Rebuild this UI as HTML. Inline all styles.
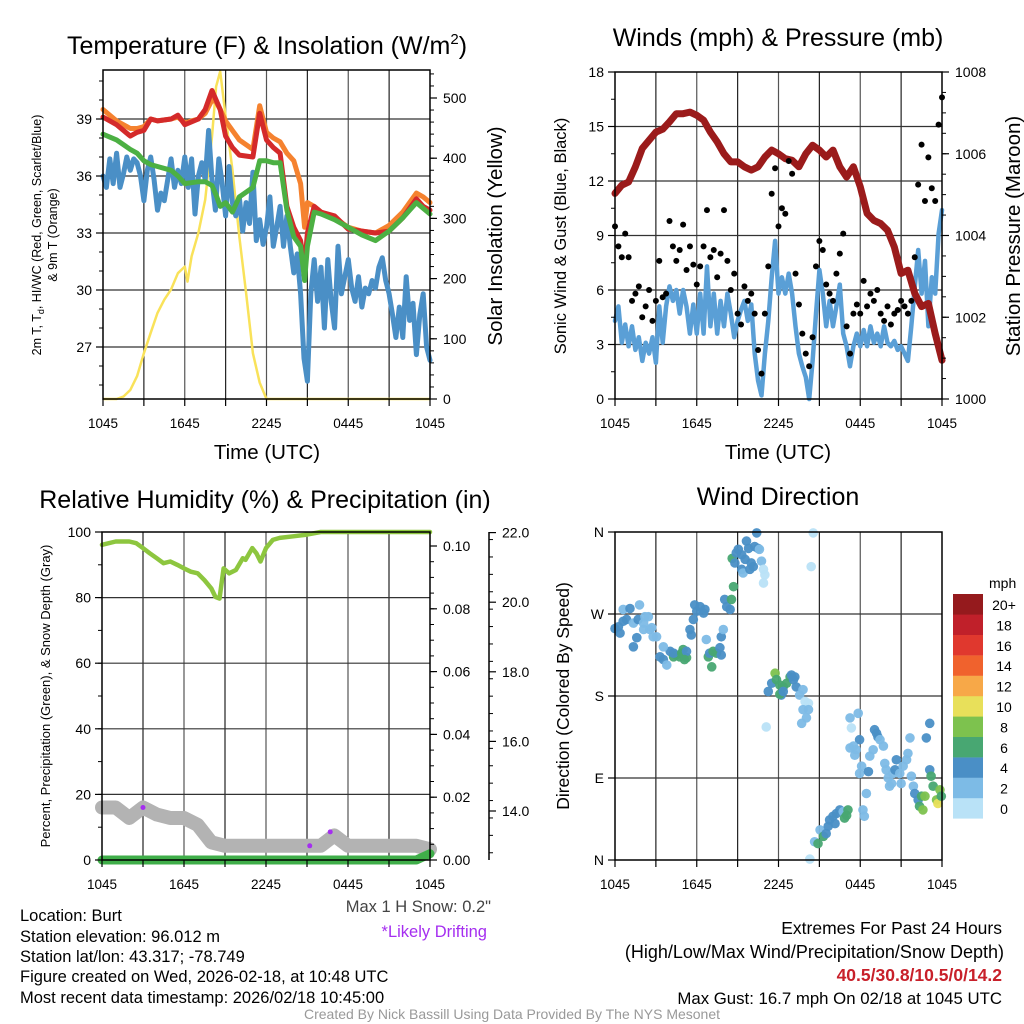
<!DOCTYPE html>
<html><head><meta charset="utf-8"><style>
html,body{margin:0;padding:0;background:#fff;}
svg{display:block;font-family:"Liberation Sans",Arial,sans-serif;}
</style></head><body>
<svg id="chart" width="1024" height="1024" viewBox="0 0 1024 1024" xmlns="http://www.w3.org/2000/svg">
<rect width="1024" height="1024" fill="#fff"/>
<g id="grid"></g><g id="marks"></g><g id="axes"></g>
<!-- titles -->
<text x="267" y="54" font-size="25" text-anchor="middle">Temperature (F) &amp; Insolation (W/m<tspan dy="-10" font-size="15">2</tspan><tspan dy="10">)</tspan></text>
<text x="778" y="46" font-size="25" text-anchor="middle">Winds (mph) &amp; Pressure (mb)</text>
<text x="265" y="508" font-size="25" text-anchor="middle">Relative Humidity (%) &amp; Precipitation (in)</text>
<text x="778" y="505" font-size="25" text-anchor="middle">Wind Direction</text>
<!-- x titles -->
<text x="267" y="459" font-size="20.5" text-anchor="middle">Time (UTC)</text>
<text x="778" y="459" font-size="20.5" text-anchor="middle">Time (UTC)</text>
<!-- y titles -->
<text transform="translate(41,235) rotate(-90)" font-size="12.5" text-anchor="middle">2m T, T<tspan font-size="9" dy="3">d</tspan><tspan dy="-3">, HI/WC (Red, Green, Scarlet/Blue)</tspan></text>
<text transform="translate(57,235) rotate(-90)" font-size="12.5" text-anchor="middle">&amp; 9m T (Orange)</text>
<text transform="translate(502,236) rotate(-90)" font-size="20.5" text-anchor="middle">Solar Insolation (Yellow)</text>
<text transform="translate(566,236) rotate(-90)" font-size="16.5" text-anchor="middle">Sonic Wind &amp; Gust (Blue, Black)</text>
<text transform="translate(1020,236) rotate(-90)" font-size="20.5" text-anchor="middle">Station Pressure (Maroon)</text>
<text transform="translate(50,696) rotate(-90)" font-size="13" text-anchor="middle">Percent, Precipitation (Green), &amp; Snow Depth (Gray)</text>
<text transform="translate(569,696) rotate(-90)" font-size="17.5" text-anchor="middle">Direction (Colored By Speed)</text>
<!-- notes -->
<text x="491" y="912" font-size="16.5" fill="#444" text-anchor="end">Max 1 H Snow: 0.2"</text>
<text x="487" y="937" font-size="16.5" fill="#a52ef0" text-anchor="end">*Likely Drifting</text>
<g font-size="16.5">
<text x="20" y="921">Location: Burt</text>
<text x="20" y="942">Station elevation: 96.012 m</text>
<text x="20" y="962">Station lat/lon: 43.317; -78.749</text>
<text x="20" y="982">Figure created on Wed, 2026-02-18, at 10:48 UTC</text>
<text x="20" y="1003">Most recent data timestamp: 2026/02/18 10:45:00</text>
</g>
<g font-size="17.5" text-anchor="end">
<text x="1002" y="934">Extremes For Past 24 Hours</text>
<text x="1004" y="958" font-size="18">(High/Low/Max Wind/Precipitation/Snow Depth)</text>
<text x="1002" y="981" font-weight="bold" fill="#c8202a">40.5/30.8/10.5/0/14.2</text>
<text x="1002" y="1004" font-size="16.8">Max Gust: 16.7 mph On 02/18 at 1045 UTC</text>
</g>
<text x="512" y="1019" font-size="14" fill="#999" text-anchor="middle">Created By Nick Bassill Using Data Provided By The NYS Mesonet</text>
</svg>
<script>
// ---------- data ----------
const xTickLabels = ['1045','1645','2245','0445','1045'];
const tempTicks = [27,30,33,36,39];
const solarTicks = [0,100,200,300,400,500];
const windTicks = [0,3,6,9,12,15,18];
const pressTicks = [1000,1002,1004,1006,1008];
const rhTicks = [0,20,40,60,80,100];
const precipTicks = ['0.00','0.02','0.04','0.06','0.08','0.10'];
const snowTicks = ['14.0','16.0','18.0','20.0','22.0'];
const dirTickLabels = ['N','E','S','W','N'];
const speedBins = ['0','2','4','6','8','10','12','14','16','18','20+'];

const tHours = [0,1,2,2.5,3,3.5,4,5,5.5,6,7,7.5,8,8.3,8.6,9,9.5,10,11,11.5,12,12.5,13,13.5,14,14.5,14.8,15,15.5,16,17,18,19,20,21,22,23,23.5,24];
const tempRed = [39.1,38.7,38.1,38.3,38.4,39.0,38.9,39.0,39.2,38.7,39.0,39.5,40.5,40.0,39.5,38.1,37.5,37.1,37.0,39.3,37.9,37.5,37.2,34.4,33.3,32.6,31.2,33.0,34.4,34.1,33.9,33.2,33.1,33.0,33.1,33.8,34.8,34.4,34.2];
const temp9m = [39.5,38.9,38.5,38.5,38.6,39.0,38.9,39.0,39.1,38.8,39.0,39.3,40.0,39.9,39.5,38.9,38.4,37.9,37.4,39.7,38.3,38.0,37.8,37.2,36.8,35.6,33.3,34.6,34.4,34.1,33.8,33.3,33.1,33.0,33.4,34.1,35.1,34.9,34.6];
const windChill = [38.2,37.9,37.4,37.2,36.8,36.6,36.5,36.3,36.0,35.6,35.7,35.7,35.5,35.0,34.4,34.6,34.1,34.9,35.4,36.8,36.8,36.7,36.7,34.2,32.8,32.3,30.5,32.3,34.1,34.0,33.7,33.3,32.9,32.6,33.1,33.8,34.6,34.3,34.0];
const dewPoint = [36.0,35.4,36.9,35.6, 37.2,35.4,36.1,37.0, 36.3,36.9,36.7,36.0, 34.7,36.3,37.0,35.8, 34.2,35.1,34.7,35.8, 36.9,35.4,36.3,35.6, 37.0,35.4,36.9,34.0, 36.0,36.7,35.8,38.4, 35.8,34.2,36.9,35.6, 33.9,36.5,34.6,33.9, 34.9,33.1,34.6,33.5, 36.2,32.6,33.7,32.4, 33.3,34.9,32.3,33.3, 34.4,32.3,33.9,32.3, 30.9,31.9,29.8,26.4, 25.2,29.8,31.6,29.4, 31.2,28.0,31.6,29.4, 28.0,32.3,29.8,30.7, 31.6,30.1,29.4,30.7, 29.1,30.1,29.8,30.5, 30.1,31.2,31.7,30.5, 29.8,28.7,27.5,29.1, 27.5,30.7,28.4,29.3, 26.6,28.7,29.8,27.0, 26.3];
const solarHours = [0,1,1.5,2,2.5,3,3.5,4,4.5,5,5.5,6,6.2,6.5,7,7.5,8,8.3,8.6,9,9.5,10,10.5,11,11.5,12,24];
const solar = [0,0,4,15,38,76,110,143,165,182,209,220,195,237,276,331,436,519,544,470,381,270,176,76,27,0,0];

const pHours = [0,0.5,1,1.5,2,2.5,3,3.5,4,4.5,5,5.5,6,6.5,7,7.5,8,8.5,9,9.5,10,10.5,11,11.5,12,12.5,13,13.5,14,14.5,15,15.5,16,16.5,17,17.5,18,18.5,19,19.5,20,20.5,21,21.5,22,22.5,23,23.5,24];
const pressure = [1005.03,1005.23,1005.31,1005.68,1006.13,1006.33,1006.53,1006.6,1006.78,1006.98,1006.98,1007.02,1006.94,1006.82,1006.53,1006.29,1006.0,1005.8,1005.8,1005.68,1005.6,1005.68,1005.92,1006.09,1006.0,1005.88,1005.84,1005.68,1006.0,1006.21,1006.09,1005.92,1006.09,1005.68,1005.43,1005.68,1005.19,1004.54,1004.37,1004.29,1004.13,1003.72,1003.07,1003.15,1002.58,1002.26,1002.34,1001.6,1000.95];
const sonicWind = [4.3,5.1,3.1,4.1, 2.9,4.0,2.7,3.4, 2.1,3.1,2.5,3.4, 2.0,5.1,3.1,5.1, 6.2,5.4,6.0,4.7, 6.0,5.1,3.6,5.2, 3.6,5.8,3.6,7.3, 4.0,5.8,3.6,5.4, 4.0,5.8,4.7,3.4, 4.3,4.9,5.4,4.3, 5.2,2.5,1.0,0.2, 2.5,4.3,6.7,8.7, 5.8,6.7,5.8,6.9, 5.8,4.0,2.5,1.8, 1.2,0.0,2.1,4.7, 7.1,5.8,4.0,5.4, 4.0,5.1,6.3,3.6, 2.9,1.8,2.9,3.6, 2.9,3.8,2.9,4.0, 3.1,3.6,2.9,4.0, 3.1,2.9,3.2,2.7, 2.9,2.5,2.1,4.0, 6.2,8.2,5.8,7.6, 4.0,6.7,5.8,9.1, 10.4];
const gust = [9.5,8.4,7.8,9.1, 7.8,5.4,5.8,6.2, 4.5,5.1,6.0,4.3, 5.4,7.6,5.6,5.8, 9.8,8.4,7.6,8.2, 9.6,7.1,8.4,7.4, 6.3,7.3,8.4,10.4, 7.8,8.2,6.7,8.0, 10.4,7.6,6.0,6.9, 4.7,4.1,6.2,5.4, 5.8,4.7,2.7,1.4, 4.7,7.3,11.3,12.7, 9.5,10.5,10.2,13.1, 12.4,6.9,5.2,3.6, 2.5,1.8,3.4,7.3, 8.7,8.2,6.3,5.8, 5.4,6.9,8.0,9.1, 4.0,2.5,4.7,5.2, 4.7,6.5,5.1,5.8, 5.4,6.0,4.7,4.3, 5.1,4.1,4.7,4.9, 5.4,5.1,4.7,5.4, 7.8,11.8,14.0,10.9, 13.3,11.6,10.9,15.1, 16.6];

const rhHours = [0,1,2,2.5,3,3.5,4,4.5,5,5.5,6,6.5,7,7.5,8,8.3,8.6,8.9,9.3,9.8,10.3,10.5,11,11.3,11.6,12,12.5,13,14,15,16,24];
const relHum = [96.1,97.1,97.1,96.6,95.1,93.5,92.0,90.5,91.0,90.0,88.9,87.9,87.4,85.3,82.8,80.2,79.7,88.9,87.4,88.4,92.0,91.5,95.1,93.5,91.0,95.1,97.6,98.2,98.7,99.2,100,100];
const snowDepth = [14.1,14.1,13.8,14.1,13.9,13.8,13.8,13.6,13.1,13.0,13.0,13.0,13.0,13.0,13.0,13.0,13.0,13.3,13.0,13.0,13.0,13.0,13.0,13.0,12.9];
const precip = [0,0,0,0,0,0,0,0,0,0,0,0,0,0,0,0,0,0,0,0,0,0,0,0,0.002];
const driftHours = [3,15.2,16.7];
const driftSnow = [14.1,13.0,13.4];

const dirTime = [0,0.25,0.37,0.6,0.85,0.6,1.1,1.35,1.7,1.8,2.1,2.2,2.45,1.35,1.6,2.1,2.55,2.8,3.05,2.7,
3.3,3.55,3.8,4.05,4.3,4.5,4.75,5.0,5.25,3.55,4.3,4.9,5.25,5.1,
5.6,5.5,5.75,5.85,6.0,6.25,6.5,6.6,6.7,6.85,6.95,7.1,7.2,7.45,7.7,7.8,7.95,7.8,
8.05,8.2,8.45,8.55,8.7,8.6,8.8,8.9,9.05,9.3,9.4,9.55,9.65,9.8,9.9,10.0,10.15,10.25,10.4,10.5,10.6,10.75,10.9,11.0,10.9,9.3,
11.1,11.25,11.5,11.75,11.85,12.1,12.2,12.35,12.6,12.85,12.95,13.1,13.2,13.3,13.55,13.8,13.95,14.2,13.8,14.2,14.05,13.7,14.55,14.4,12.1,12.35,
14.3,14.65,14.9,15.05,15.3,15.5,15.65,15.75,16.0,16.25,16.5,16.75,17.0,17.1,16.85,16.15,18.2,18.3,18.45,
17.25,17.35,17.85,17.95,17.25,17.5,17.7,17.6,17.95,18.1,18.6,18.7,18.95,19.05,19.2,19.3,19.45,19.7,19.8,19.9,20.05,20.15,20.3,20.4,20.55,20.65,20.9,21.0,21.15,21.4,21.5,21.65,21.75,21.9,22.0,22.25,22.5,22.35,22.6,22.75,22.85,23.1,23.1,23.2,23.35,23.6,23.7,23.85,23.95];
const dirDeg = [254,256,249,262,264,275,276,260,264,280,260,267,267,234,244,253,253,245,245,255,
223,220,214,229,223,225,223,231,222,234,227,227,229,220,
247,253,264,280,273,278,271,275,242,223,227,212,229,227,233,245,253,225,
286,278,275,286,300,331,326,337,341,319,315,330,350,342,319,326,322,344,359,342,341,328,319,313,304,335,
146,185,194,205,198,192,181,190,194,201,203,198,201,190,181,187,174,172,165,165,156,150,359,322,182,185,
1,20,18,33,26,29,37,44,48,51,55,53,49,55,46,40,55,48,73,
156,145,161,132,123,125,121,115,95,103,97,114,121,143,139,135,132,125,106,99,90,81,84,95,99,110,95,84,103,110,117,134,92,81,73,66,70,59,55,70,134,150,99,92,81,66,62,77,70];
const dirSpeed = [4,4,4,4,4,2,4,2,4,2,2,2,2,4,4,2,2,2,2,2,
4,4,2,4,6,6,6,6,6,2,4,6,4,6,
4,4,4,4,4,4,4,4,2,6,4,6,6,6,4,4,2,4,
4,4,4,6,6,6,4,4,4,4,2,4,4,4,4,4,4,4,4,4,2,2,0,0,0,4,
0,4,4,8,6,6,4,6,6,6,4,4,4,4,2,2,0,0,2,2,2,2,0,0,6,4,
0,2,6,2,6,4,4,4,4,4,4,2,6,6,6,4,2,2,2,
2,0,2,4,2,2,2,2,2,2,4,2,2,4,4,4,2,2,2,2,2,2,2,2,4,4,2,2,2,2,2,2,2,2,4,4,6,6,8,8,4,4,4,6,6,8,10,8,6];

// ---------- helpers ----------
const NS='http://www.w3.org/2000/svg';
const gGrid=document.getElementById('grid'), gMarks=document.getElementById('marks'), gAxes=document.getElementById('axes');
function mk(tag,attrs,parent){const e=document.createElementNS(NS,tag);for(const k in attrs)e.setAttribute(k,attrs[k]);parent.appendChild(e);return e;}
function pathFrom(xs,ys){return xs.map((x,i)=>(i?'L':'M')+x.toFixed(1)+','+ys[i].toFixed(1)).join('');}
const bins = ['#b9e2f7','#7dbbe6','#4a8fc6','#48a772','#7dc24e','#e8e05a','#f7a848','#f0622d','#e0382e','#c0202a','#951a1d'];

const P1={x0:103,x1:430,y0:70,y1:399}, P2={x0:615,x1:942,y0:72,y1:399}, P3={x0:102,x1:430,y0:532,y1:860}, P4={x0:615,x1:942,y0:532,y1:860};
const hx=(P,h)=>P.x0+h*(P.x1-P.x0)/24;
const yTemp=t=>119+(39-t)*19.0;
const ySolar=w=>399-w*0.602;
const yWind=m=>399-m*(327/18);
const yPress=p=>399-(p-1000)*(327/8);
const yRH=r=>860-r*3.28;
const yPrecip=p=>860-p*3140;
const ySnow=s=>811-(s-14)*34.8;
const yDir=d=>860-d*(328/360);

function frame(P,name,hLines){
  for(let k=1;k<8;k++){
    const x=P.x0+k*(P.x1-P.x0)/8;
    const l=mk('line',{x1:x,x2:x,y1:P.y0,y2:P.y1,stroke:k%2?'#222':'#555','stroke-width':1.2},gGrid);
    
    
  }
  hLines.forEach(y=>{
    const l=mk('line',{x1:P.x0,x2:P.x1,y1:y,y2:y,stroke:'#333','stroke-width':1.2},gGrid);
    
    
  });
  const r=mk('rect',{x:P.x0,y:P.y0,width:P.x1-P.x0,height:P.y1-P.y0,fill:'none',stroke:'#000','stroke-width':1.5},gAxes);
  
  
  for(let k=0;k<=8;k++){
    const x=P.x0+k*(P.x1-P.x0)/8;
    const t=mk('line',{x1:x,x2:x,y1:P.y1,y2:P.y1+7,stroke:'#000','stroke-width':1.2},gAxes);
    
    
  }
  xTickLabels.forEach((lab,i)=>{
    const x=P.x0+i*(P.x1-P.x0)/4;
    const t=mk('text',{x:x,y:P.y1+29,'font-size':13.5,'text-anchor':'middle'},gAxes);
    t.textContent=lab;
    
    
  });
}
function yTicks(vals,labels,fy,x,side,name,minorVals,fs){
  vals.forEach((v,i)=>{
    const y=fy(v);
    const t=mk('line',{x1:x,x2:x+(side==='left'?-7:7),y1:y,y2:y,stroke:'#000','stroke-width':1.2},gAxes);
    
    
    const tx=mk('text',{x:side==='left'?x-11:x+13,y:y+5,'font-size':fs||14,'text-anchor':side==='left'?'end':'start'},gAxes);
    tx.textContent=labels[i];
    
    
  });
  (minorVals||[]).forEach(v=>{
    const y=fy(v);
    const t=mk('line',{x1:x,x2:x+(side==='left'?-4:4),y1:y,y2:y,stroke:'#000','stroke-width':1},gAxes);
    
    
  });
}
function range(a,b,s){const r=[];for(let v=a;v<=b+1e-9;v+=s)r.push(+v.toFixed(4));return r;}

// ---------- panel 1 ----------
frame(P1,'temperature',tempTicks.map(yTemp));
yTicks(tempTicks,tempTicks.map(String),yTemp,P1.x0,'left','temperature-y',range(25,41,1));
yTicks(solarTicks,solarTicks.map(String),ySolar,P1.x1,'right','solar-y',range(0,540,20));
{
  let p=mk('path',{d:pathFrom(solarHours.map(h=>hx(P1,h)),solar.map(ySolar)),fill:'none',stroke:'#f9e25a','stroke-width':2.5,'stroke-linejoin':'round'},gMarks);
  
  
  const dHours=dewPoint.map((_,i)=>i*0.25);
  p=mk('path',{d:pathFrom(dHours.map(h=>hx(P1,h)),dewPoint.map(yTemp)),fill:'none',stroke:'#4a8fc6','stroke-width':5,'stroke-linejoin':'round','stroke-linecap':'round'},gMarks);
  
  
  p=mk('path',{d:pathFrom(tHours.map(h=>hx(P1,h)),temp9m.map(yTemp)),fill:'none',stroke:'#f5822f','stroke-width':5,'stroke-linejoin':'round','stroke-linecap':'round'},gMarks);
  
  
  p=mk('path',{d:pathFrom(tHours.map(h=>hx(P1,h)),tempRed.map(yTemp)),fill:'none',stroke:'#d42a2a','stroke-width':5,'stroke-linejoin':'round','stroke-linecap':'round'},gMarks);
  
  
  p=mk('path',{d:pathFrom(tHours.map(h=>hx(P1,h)),windChill.map(yTemp)),fill:'none',stroke:'#4cb043','stroke-width':5,'stroke-linejoin':'round','stroke-linecap':'round'},gMarks);
  
  
}

// ---------- panel 2 ----------
frame(P2,'winds',windTicks.slice(1,-1).map(yWind));
yTicks(windTicks,windTicks.map(String),yWind,P2.x0,'left','wind-y',range(0,18,1.5));
yTicks(pressTicks,pressTicks.map(String),yPress,P2.x1,'right','pressure-y',range(1000,1008,0.5));
{
  const wHours=sonicWind.map((_,i)=>i*0.25);
  let p=mk('path',{d:pathFrom(wHours.map(h=>hx(P2,h)),sonicWind.map(yWind)),fill:'none',stroke:'#5a9fd6','stroke-width':4.5,'stroke-linejoin':'round','stroke-linecap':'round'},gMarks);
  
  
  p=mk('path',{d:pathFrom(pHours.map(h=>hx(P2,h)),pressure.map(yPress)),fill:'none',stroke:'#9b1b1b','stroke-width':7,'stroke-linejoin':'round','stroke-linecap':'round'},gMarks);
  
  
  gust.forEach((g,i)=>{
    const c=mk('circle',{cx:hx(P2,i*0.25),cy:yWind(g),r:3,fill:'#000'},gMarks);
    
    
  });
}

// ---------- panel 3 ----------
frame(P3,'humidity',rhTicks.slice(1,-1).map(yRH));
yTicks(rhTicks,rhTicks.map(String),yRH,P3.x0,'left','humidity-y',range(0,100,10));
yTicks(precipTicks.map(Number),precipTicks,yPrecip,P3.x1,'right','precip-y',range(0,0.1,0.005));
{
  const ax=mk('line',{x1:489,x2:489,y1:532,y2:860,stroke:'#000','stroke-width':1.5},gAxes);
  
  
  yTicks(snowTicks.map(Number),snowTicks,ySnow,489,'right','snow-y',range(12.8,22,0.5));
  const sHours=snowDepth.map((_,i)=>i);
  let p=mk('path',{d:pathFrom(sHours.map(h=>hx(P3,h)),snowDepth.map(ySnow)),fill:'none',stroke:'#b3b3b3','stroke-width':14,'stroke-linejoin':'round','stroke-linecap':'round'},gMarks);
  
  
  p=mk('path',{d:pathFrom(sHours.map(h=>hx(P3,h)),precip.map(yPrecip)),fill:'none',stroke:'#3fae49','stroke-width':9,'stroke-linejoin':'round','stroke-linecap':'round'},gMarks);
  
  
  p=mk('path',{d:pathFrom(rhHours.map(h=>hx(P3,h)),relHum.map(yRH)),fill:'none',stroke:'#8dc63f','stroke-width':4.5,'stroke-linejoin':'round','stroke-linecap':'round'},gMarks);
  
  
  driftHours.forEach((h,i)=>{
    const c=mk('circle',{cx:hx(P3,h),cy:ySnow(driftSnow[i]),r:2.5,fill:'#a52ef0'},gMarks);
    
    
  });
}

// ---------- panel 4 ----------
const dirVals=[0,90,180,270,360];
frame(P4,'direction',dirVals.slice(1,-1).map(yDir));
yTicks(dirVals,dirTickLabels,yDir,P4.x0,'left','direction-y',[],14);
dirTime.forEach((h,i)=>{
  const c=mk('circle',{cx:hx(P4,h),cy:yDir(dirDeg[i]),r:4.8,fill:bins[Math.min(10,Math.round(dirSpeed[i]/2))],'fill-opacity':0.95},gMarks);
  
  
});
{
  const t=mk('text',{x:989,y:588,'font-size':14},gAxes);
  t.textContent='mph';
  
  
  speedBins.forEach((lab,i)=>{
    const y=594+(10-i)*20.4;
    const r=mk('rect',{x:953,y:y,width:30,height:20.6,fill:bins[i]},gAxes);
    
    
    const tx=mk('text',{x:1004,y:y+16,'font-size':14,'text-anchor':'middle'},gAxes);
    tx.textContent=lab;
    
    
  });
}
</script>
</body></html>
